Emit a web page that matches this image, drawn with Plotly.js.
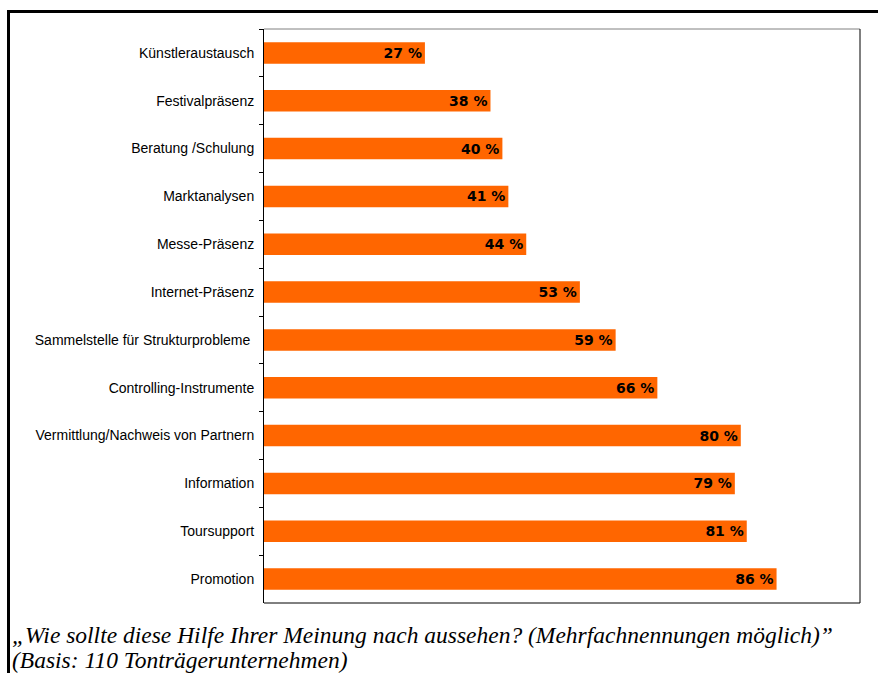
<!DOCTYPE html>
<html>
<head>
<meta charset="utf-8">
<script src="https://cdn.plot.ly/plotly-3.0.1.min.js"></script>
<style>
html,body{margin:0;padding:0;background:#fff;}
#wrap{position:relative;width:878px;height:673px;overflow:hidden;}
#chart{position:absolute;left:0;top:0;width:878px;height:673px;}
#frame{position:absolute;left:7px;top:10px;width:871px;height:663px;border-top:3px solid #000;border-left:3px solid #000;box-sizing:border-box;pointer-events:none;}
</style>
</head>
<body>
<div id="wrap"><div id="chart"></div><div id="frame"></div></div>
<script>
const categories = [
  "Künstleraustausch",
  "Festivalpräsenz",
  "Beratung /Schulung",
  "Marktanalysen",
  "Messe-Präsenz",
  "Internet-Präsenz",
  "Sammelstelle für Strukturprobleme ",
  "Controlling-Instrumente",
  "Vermittlung/Nachweis von Partnern",
  "Information",
  "Toursupport",
  "Promotion"
];
const values = [27, 38, 40, 41, 44, 53, 59, 66, 80, 79, 81, 86];
const valueLabels = values.map(v => v + " %");
const captionLine1 = "„Wie sollte diese Hilfe Ihrer Meinung nach aussehen? (Mehrfachnennungen möglich)”";
const captionLine2 = "(Basis: 110 Tonträgerunternehmen)";

const L = 264, R = 860, T = 29, B = 603, W = 878, H = 673;
const pw = R - L, ph = B - T;
const px = x => (x - L) / pw;
const py = y => (B - y) / ph;

const trace = {
  type: "bar",
  orientation: "h",
  y: categories,
  x: values,
  text: valueLabels,
  textposition: "inside",
  insidetextanchor: "end",
  textangle: 0,
  constraintext: "none",
  textfont: {family: "DejaVu Sans, sans-serif", size: 14, color: "#000", weight: "bold"},
  marker: {color: "#FF6600", line: {width: 0}},
  hoverinfo: "none"
};

const layout = {
  width: W, height: H,
  margin: {l: L, r: W - R, t: T, b: H - B, pad: 0},
  paper_bgcolor: "#fff",
  plot_bgcolor: "#fff",
  showlegend: false,
  bargap: 0.55,
  xaxis: {range: [0, 100], showgrid: false, zeroline: false, showticklabels: false, ticks: "", showline: false, fixedrange: true},
  yaxis: {
    type: "category", autorange: "reversed", showgrid: false, zeroline: false,
    showline: true, linecolor: "#000", linewidth: 1,
    ticks: "outside", ticklen: 4, tickcolor: "#000", tickwidth: 1, tickson: "boundaries",
    ticklabelstandoff: 6,
    tickfont: {family: "Liberation Sans, Arial, sans-serif", size: 14, color: "#000"},
    fixedrange: true
  },
  shapes: [
    {type: "line", xref: "paper", yref: "paper", x0: 0, x1: 1, y0: 1, y1: 1, line: {color: "#808080", width: 1}},
    {type: "line", xref: "paper", yref: "paper", x0: 1, x1: 1, y0: 0, y1: 1, line: {color: "#000", width: 1}},
    {type: "line", xref: "paper", yref: "paper", x0: 0, x1: 1, y0: 0, y1: 0, line: {color: "#000", width: 1}}
  ],
  annotations: [
    {xref: "paper", yref: "paper", x: px(10), y: py(635), xanchor: "left", yanchor: "middle", showarrow: false,
     text: captionLine1, font: {family: "Liberation Serif, Times New Roman, serif", size: 23.5, color: "#000", style: "italic"}},
    {xref: "paper", yref: "paper", x: px(10), y: py(660), xanchor: "left", yanchor: "middle", showarrow: false,
     text: captionLine2, font: {family: "Liberation Serif, Times New Roman, serif", size: 23.5, color: "#000", style: "italic"}}
  ]
};

Plotly.newPlot("chart", [trace], layout, {displayModeBar: false, staticPlot: true});
</script>
</body>
</html>
